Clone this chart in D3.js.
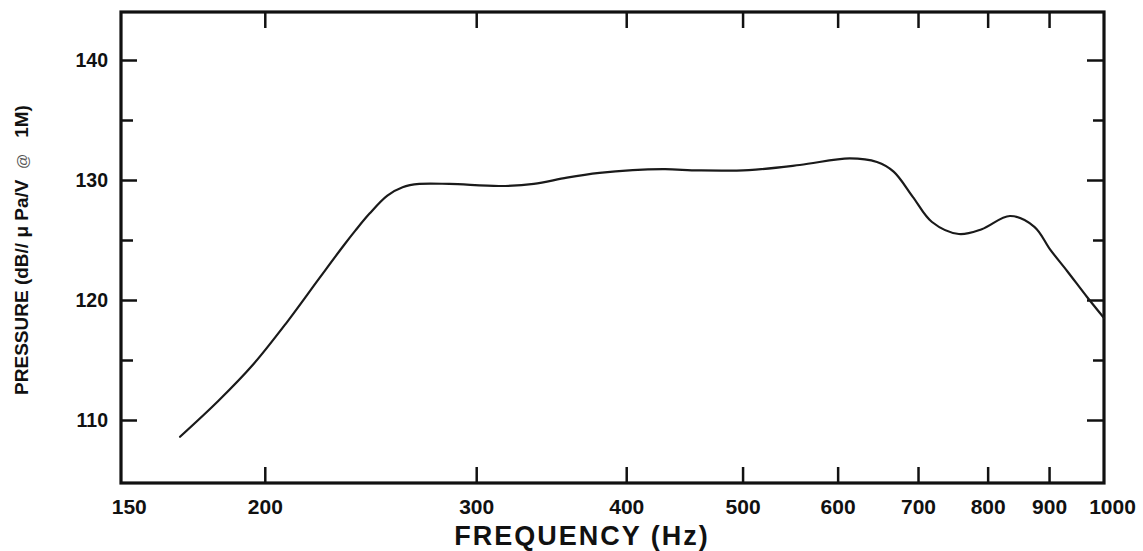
<!DOCTYPE html>
<html>
<head>
<meta charset="utf-8">
<script src="https://cdn.jsdelivr.net/npm/d3@7"></script>
<style>
  html, body { margin: 0; padding: 0; background: #ffffff; }
  svg { display: block; }
  text { font-family: "Liberation Sans", Arial, Helvetica, sans-serif; fill: #111; }
</style>
</head>
<body>
<svg id="chart" width="1143" height="551"></svg>
<script>
// ---- data ----
const frequencyHz = [170, 183, 195.5, 208.5, 222, 232.5, 238, 244.5, 253, 260.5, 269, 285, 314, 335, 357, 380, 405, 431, 460, 506, 558, 614, 647, 668, 693, 719, 757, 791, 835, 875, 902, 932, 968, 1000];
const pressureDb = [108.6, 111.6, 114.6, 118.1, 121.8, 124.5, 125.8, 127.2, 128.7, 129.4, 129.67, 129.67, 129.5, 129.67, 130.2, 130.6, 130.83, 130.9, 130.8, 130.83, 131.25, 131.8, 131.5, 130.7, 128.6, 126.5, 125.5, 125.9, 127.0, 126.1, 124.2, 122.4, 120.25, 118.5];
const xTickLabels = [150, 200, 300, 400, 500, 600, 700, 800, 900, 1000];
const xTickMarks = [200, 300, 400, 500, 600, 700, 800, 900];
const yTickLabels = [110, 120, 130, 140];
const yTickMajor = [110, 120, 130, 140];
const yTickMinor = [115, 125, 135];
const xTitle = "FREQUENCY (Hz)";
const yTitleParts = ["PRESSURE (dB// \u03bc Pa/V\u00a0\u00a0", "@", "\u00a0\u00a0 1M)"];

// ---- layout ----
const L = 121, R = 1104, T = 12, B = 483;
const svg = d3.select("#chart");

const x = d3.scaleLog().domain([151.8, 1000]).range([L, R]);
const y = d3.scaleLinear().domain([104.75, 144]).range([B, T]);

const tickStyle = g => {
  g.select(".domain").remove();
  g.selectAll("line").attr("stroke", "#111").attr("stroke-width", 2.5);
  g.selectAll("text").remove();
};
svg.append("g").attr("transform", `translate(0,${B})`)
  .call(d3.axisBottom(x).tickValues(xTickMarks).tickSize(-16)).call(tickStyle);
svg.append("g").attr("transform", `translate(0,${T})`)
  .call(d3.axisTop(x).tickValues(xTickMarks).tickSize(-16)).call(tickStyle);

svg.append("g").attr("transform", `translate(${L},0)`)
  .call(d3.axisLeft(y).tickValues(yTickMajor).tickSize(-16)).call(tickStyle);
svg.append("g").attr("transform", `translate(${L},0)`)
  .call(d3.axisLeft(y).tickValues(yTickMinor).tickSize(-12)).call(tickStyle);
svg.append("g").attr("transform", `translate(${R},0)`)
  .call(d3.axisRight(y).tickValues(yTickMajor).tickSize(-17)).call(tickStyle);
svg.append("g").attr("transform", `translate(${R},0)`)
  .call(d3.axisRight(y).tickValues(yTickMinor).tickSize(-11)).call(tickStyle);

// frame
svg.append("rect").attr("x", L).attr("y", T).attr("width", R - L).attr("height", B - T)
  .attr("fill", "none").attr("stroke", "#111").attr("stroke-width", 3.2);

// x tick labels
const xLab = svg.append("g").attr("transform", `translate(0,${B})`)
  .call(d3.axisBottom(x).tickValues(xTickLabels).tickSize(0).tickPadding(0).tickFormat(d3.format("d")));
xLab.select(".domain").remove();
xLab.selectAll("text")
  .attr("y", 31).attr("dy", 0)
  .attr("dx", d => d === 150 ? 14 : (d === 1000 ? 8 : 0))
  .style("font-size", "21px").style("font-weight", "bold")
  .style("font-family", "'Liberation Sans', Arial, sans-serif").attr("fill", "#111");

// y tick labels
const yLab = svg.append("g").attr("transform", `translate(${L},0)`)
  .call(d3.axisLeft(y).tickValues(yTickLabels).tickSize(0).tickPadding(13).tickFormat(d3.format("d")));
yLab.select(".domain").remove();
yLab.selectAll("text")
  .style("font-size", "19.5px").style("font-weight", "bold")
  .style("font-family", "'Liberation Sans', Arial, sans-serif").attr("fill", "#111");

// axis titles
svg.append("text").attr("x", 582).attr("y", 545).attr("text-anchor", "middle")
  .style("font-size", "27px").style("font-weight", "bold").style("letter-spacing", "2px")
  .text(xTitle);

const yt = svg.append("text").attr("transform", "translate(28,250) rotate(-90)").attr("text-anchor", "middle")
  .style("font-size", "19px").style("font-weight", "bold");
yt.selectAll("tspan").data(yTitleParts).join("tspan")
  .style("font-weight", (d, i) => i === 1 ? "normal" : "bold")
  .style("font-size", (d, i) => i === 1 ? "15px" : null)
  .attr("fill", (d, i) => i === 1 ? "#555" : "#111")
  .text(d => d);

// response curve
const pts = frequencyHz.map((f, i) => [f, pressureDb[i]]);
const line = d3.line().x(d => x(d[0])).y(d => y(d[1])).curve(d3.curveCatmullRom.alpha(0.5));
svg.append("path").datum(pts).attr("d", line)
  .attr("fill", "none").attr("stroke", "#1a1a1a").attr("stroke-width", 2.2)
  .attr("stroke-linejoin", "round").attr("stroke-linecap", "round");
</script>
</body>
</html>
